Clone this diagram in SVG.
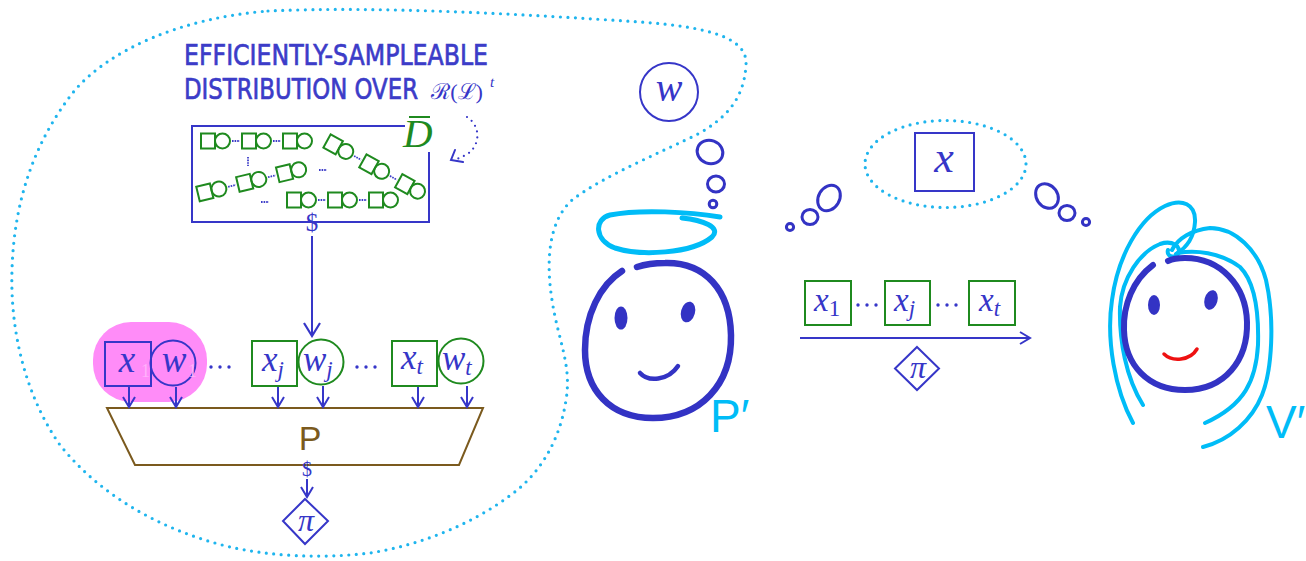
<svg xmlns="http://www.w3.org/2000/svg" width="1306" height="561" viewBox="0 0 1306 561">
  <style>
    .dots { fill: none; stroke: #1fb5ee; stroke-width: 3.2; stroke-linecap: round; stroke-dasharray: 0 7.5; }
    .blue { fill: none; stroke: #3636c8; stroke-width: 2; }
    .green { fill: none; stroke: #1f8a1f; stroke-width: 2; }
    .brown { fill: #fff; stroke: #7b5a1e; stroke-width: 2; }
    .hand { fill: none; stroke: #3333c4; stroke-linecap: round; stroke-linejoin: round; }
    .hair { fill: none; stroke: #00bcf7; stroke-width: 4; stroke-linecap: round; }
    .math { font-family: "Liberation Serif", "DejaVu Serif", serif; font-style: italic; fill: #3636c8; }
    .up { font-family: "Liberation Serif", "DejaVu Serif", serif; fill: #3636c8; }
    .title { font-family: "DejaVu Sans Condensed", "Liberation Sans", sans-serif; font-weight: normal; fill: #3c3cc8; stroke: #3c3cc8; stroke-width: 0.6; font-size: 26px; }
    .label { font-family: "Liberation Sans", "Open Sans", sans-serif; fill: #00bcf7; font-size: 46px; }
    .conn { fill: none; stroke: #3636c8; stroke-width: 2; }
    .dash { stroke: #3c3cc8; stroke-width: 1.8; stroke-dasharray: 1.6 1; }
  </style>
  <defs>
    <marker id="head" viewBox="-12 -8 14 16" refX="0" refY="0" markerWidth="14" markerHeight="16" markerUnits="userSpaceOnUse" orient="auto">
      <path d="M-10,-6 L0,0 L-10,6" fill="none" stroke="#3636c8" stroke-width="2"/>
    </marker>
    <marker id="headL" viewBox="-16 -10 18 20" refX="0" refY="0" markerWidth="18" markerHeight="20" markerUnits="userSpaceOnUse" orient="auto">
      <path d="M-13,-8 L0,0 L-13,8" fill="none" stroke="#3636c8" stroke-width="2.2"/>
    </marker>
    <!-- one square/circle pair of a sampled tuple -->
    <g id="unit" class="green">
      <rect x="0" y="-7.5" width="14" height="15"/>
      <circle cx="21.5" cy="0" r="7.5"/>
    </g>
    <!-- a chain of three pairs joined by dashes -->
    <g id="chain">
      <use href="#unit"/>
      <use href="#unit" x="41"/>
      <use href="#unit" x="82"/>
      <line class="dash" x1="31" y1="0" x2="39" y2="0"/>
      <line class="dash" x1="72" y1="0" x2="80" y2="0"/>
    </g>
  </defs>

  <!-- dotted region enclosing the prover's machinery -->
  <g id="region">
    <path class="dots" d="M268,11 C380,6 520,14 640,22 C710,27 748,38 746,65 C744,100 725,118 700,133 C660,153 605,175 572,200 C548,222 546,262 552,300 C558,340 572,365 566,400 C560,440 540,475 508,497 C470,525 420,545 370,553 C320,559 270,556 230,547 C160,530 100,495 60,445 C25,395 10,330 12,270 C14,200 35,140 75,90 C110,50 180,18 268,11 Z"/>
  </g>

  <!-- heading -->
  <g id="title">
    <text class="title" transform="translate(184,65) scale(1,1.12)" x="0" y="0" textLength="304" lengthAdjust="spacingAndGlyphs">EFFICIENTLY-SAMPLEABLE</text>
    <text class="title" transform="translate(184,99) scale(1,1.12)" x="0" y="0" textLength="234" lengthAdjust="spacingAndGlyphs">DISTRIBUTION OVER</text>
    <text class="up" x="431" y="99" font-size="22" textLength="52" lengthAdjust="spacingAndGlyphs">ℛ(ℒ)</text>
    <text class="math" x="490" y="87" font-size="15">t</text>
  </g>

  <!-- distribution D-bar -->
  <g id="dist-box">
    <path class="blue" d="M405,126 L192,126 L192,222 L429,222 L429,152"/>
    <text x="403" y="147" font-family="Liberation Serif, DejaVu Serif, serif" font-style="italic" font-size="41" fill="#1f8a1f">D</text>
    <line x1="409" y1="117" x2="430" y2="117" stroke="#1f8a1f" stroke-width="2"/>
    <use href="#chain" transform="translate(201,141)"/>
    <use href="#chain" transform="translate(198,194) rotate(-13.5)"/>
    <use href="#chain" transform="translate(327,141) rotate(29)"/>
    <use href="#chain" transform="translate(287,200)"/>
    <line class="dash" x1="248" y1="157" x2="248" y2="166"/>
    <line class="dash" x1="319" y1="170" x2="327" y2="170"/>
    <line class="dash" x1="261" y1="202" x2="269" y2="202"/>
    <text class="up" x="312" y="231" font-size="25" text-anchor="middle">$</text>
  </g>

  <!-- first pair (x, w), highlighted -->
  <g id="pair-1">
    <rect x="93" y="322" width="114" height="80" rx="38" ry="38" fill="#ff8cf8"/>
    <rect class="blue" x="105" y="342" width="46" height="44"/>
    <circle class="blue" cx="173" cy="363" r="22.5"/>
    <text x="141" y="377" font-family="Liberation Serif, serif" font-size="18" fill="#ffb2fb">1</text>
    <text x="188" y="377" font-family="Liberation Serif, serif" font-size="18" fill="#ffb2fb">1</text>
    <text class="math" x="127" y="372" font-size="37" text-anchor="middle">x</text>
    <text class="math" x="174" y="372" font-size="37" text-anchor="middle">w</text>
  </g>
  <g id="ellipsis-1" fill="#3636c8">
    <circle cx="211" cy="367" r="1.7"/><circle cx="220" cy="367" r="1.7"/><circle cx="229" cy="367" r="1.7"/>
  </g>

  <!-- pair j -->
  <g id="pair-j">
    <rect class="green" x="252" y="341" width="45" height="45"/>
    <circle class="green" cx="321" cy="362" r="22.5"/>
    <text class="math" x="262" y="371" font-size="35">x<tspan font-size="23" dy="6">j</tspan></text>
    <text class="math" x="303" y="371" font-size="35">w<tspan font-size="23" dy="6">j</tspan></text>
  </g>
  <g id="ellipsis-2" fill="#3636c8">
    <circle cx="357" cy="367" r="1.7"/><circle cx="366" cy="367" r="1.7"/><circle cx="375" cy="367" r="1.7"/>
  </g>

  <!-- pair t -->
  <g id="pair-t">
    <rect class="green" x="392" y="341" width="45" height="45"/>
    <circle class="green" cx="461" cy="361" r="22.5"/>
    <text class="math" x="401" y="369" font-size="35">x<tspan font-size="23" dy="5">t</tspan></text>
    <text class="math" x="442" y="370" font-size="35">w<tspan font-size="23" dy="5">t</tspan></text>
  </g>

  <!-- prover P -->
  <g id="prover-P">
    <polygon class="brown" points="107,408 483,408 459,465 135,465"/>
    <text x="310" y="450" font-family="Liberation Sans, Open Sans, sans-serif" font-size="34" fill="#7b5a1e" text-anchor="middle">P</text>
    <text class="up" x="307" y="476" font-size="20" text-anchor="middle">$</text>
  </g>

  <!-- resulting proof -->
  <g id="proof-left">
    <polygon class="blue" points="305,499 328,521 305,544 283,521"/>
    <text class="math" x="306" y="531" font-size="32" text-anchor="middle">π</text>
  </g>

  <!-- witness held by P' -->
  <g id="witness-w">
    <circle class="blue" cx="669" cy="92" r="29"/>
    <text class="math" x="669" y="101" font-size="40" text-anchor="middle">w</text>
  </g>
  <g id="thought-P" class="hand" stroke-width="3">
    <ellipse cx="710" cy="152" rx="13" ry="11.5" transform="rotate(20 710 152)"/>
    <ellipse cx="716" cy="184" rx="8.5" ry="8"/>
    <circle cx="713" cy="204" r="3.8"/>
  </g>

  <!-- honest prover P' -->
  <g id="prover-face">
    <path d="M720,217 C690,212 640,209 610,215 C594,219 594,240 615,248 C640,256 692,254 712,237 C722,227 702,220 682,218" fill="none" stroke="#00bcf7" stroke-width="5" stroke-linecap="round"/>
    <path class="hand" stroke-width="6.5" d="M622,271 C600,285 585,315 585,350 C585,390 610,418 653,418 C700,418 732,385 731,335 C730,290 705,262 665,263 C652,263 643,265 637,267"/>
    <ellipse cx="621" cy="318" rx="6.5" ry="11.5" fill="#3333c4"/>
    <ellipse cx="688" cy="312" rx="7" ry="10.5" transform="rotate(15 688 312)" fill="#3333c4"/>
    <path class="hand" stroke-width="4.5" d="M640,373 C648,382 668,381 678,366"/>
    <text class="label" x="710" y="432">P′</text>
  </g>

  <!-- shared statement x -->
  <g id="thought-left" class="hand" stroke-width="3">
    <ellipse cx="829" cy="198" rx="10.5" ry="13.5" transform="rotate(30 829 198)"/>
    <ellipse cx="810" cy="217" rx="8" ry="7.5"/>
    <circle cx="790" cy="227" r="3.6"/>
  </g>
  <g id="statement-x">
    <ellipse class="dots" cx="945.5" cy="164" rx="80.5" ry="43.5"/>
    <rect class="blue" x="915" y="133" width="59" height="58" stroke-width="2.5"/>
    <text class="math" x="944" y="172" font-size="44" text-anchor="middle">x</text>
  </g>
  <g id="thought-right" class="hand" stroke-width="3">
    <ellipse cx="1047" cy="196" rx="10.5" ry="13" transform="rotate(-35 1047 196)"/>
    <ellipse cx="1067" cy="213" rx="8" ry="7.5"/>
    <circle cx="1086" cy="222" r="3.6"/>
  </g>

  <!-- transcript sent to V' -->
  <g id="transcript">
    <rect class="green" x="805" y="281" width="46" height="44"/>
    <text class="math" x="814" y="311" font-size="33">x<tspan class="up" font-style="normal" font-size="23" dy="5">1</tspan></text>
    <g fill="#3636c8">
      <circle cx="858" cy="305" r="1.7"/><circle cx="867" cy="305" r="1.7"/><circle cx="876" cy="305" r="1.7"/>
    </g>
    <rect class="green" x="885" y="281" width="45" height="44"/>
    <text class="math" x="894" y="311" font-size="33">x<tspan font-size="23" dy="5">j</tspan></text>
    <g fill="#3636c8">
      <circle cx="938" cy="305" r="1.7"/><circle cx="947" cy="305" r="1.7"/><circle cx="956" cy="305" r="1.7"/>
    </g>
    <rect class="green" x="969" y="281" width="46" height="44"/>
    <text class="math" x="979" y="311" font-size="33">x<tspan font-size="23" dy="5">t</tspan></text>
  </g>
  <g id="proof-right">
    <polygon class="blue" points="917,347 939,368.5 917,390 895,368.5"/>
    <text class="math" x="918" y="378" font-size="32" text-anchor="middle">π</text>
  </g>

  <!-- verifier V' -->
  <g id="verifier-face">
    <path class="hair" d="M1133,423 C1115,390 1106,340 1112,300 C1118,255 1140,218 1165,206 C1182,198 1196,204 1195,222 C1194,238 1186,248 1176,254"/>
    <path class="hair" d="M1143,405 C1126,378 1119,340 1120,307 C1122,278 1140,252 1160,244 C1172,240 1182,246 1178,254 C1174,259 1166,256 1168,250"/>
    <path class="hair" d="M1172,250 C1178,238 1192,230 1210,228 C1235,228 1258,250 1266,280 C1275,320 1272,370 1262,395 C1252,420 1230,440 1203,447"/>
    <path class="hair" d="M1178,253 C1195,250 1220,252 1240,267 C1255,282 1259,310 1258,345 C1256,380 1245,405 1205,423"/>
    <path class="hand" stroke-width="6" d="M1153,265 C1133,280 1123,305 1124,330 C1125,365 1148,390 1185,390 C1225,390 1248,360 1247,322 C1246,285 1220,258 1185,258 C1178,258 1172,259 1168,261"/>
    <ellipse cx="1154" cy="305" rx="6" ry="10" fill="#3333c4"/>
    <ellipse cx="1211" cy="300" rx="6.5" ry="10" transform="rotate(15 1211 300)" fill="#3333c4"/>
    <path d="M1164,354 C1172,362 1190,361 1197,349" fill="none" stroke="#ee1111" stroke-width="3.5" stroke-linecap="round"/>
    <text class="label" x="1266" y="438">V′</text>
  </g>

  <!-- connectors -->
  <g id="connectors">
    <line class="conn" x1="312" y1="236" x2="312" y2="336" marker-end="url(#headL)"/>
    <line class="conn" x1="129" y1="387" x2="129" y2="407" marker-end="url(#head)"/>
    <line class="conn" x1="176" y1="387" x2="176" y2="407" marker-end="url(#head)"/>
    <line class="conn" x1="278" y1="387" x2="278" y2="407" marker-end="url(#head)"/>
    <line class="conn" x1="323" y1="386" x2="323" y2="407" marker-end="url(#head)"/>
    <line class="conn" x1="418" y1="387" x2="418" y2="407" marker-end="url(#head)"/>
    <line class="conn" x1="467" y1="386" x2="467" y2="407" marker-end="url(#head)"/>
    <line class="conn" x1="307" y1="479" x2="307" y2="497" marker-end="url(#head)"/>
    <line class="conn" x1="800" y1="338" x2="1030" y2="338" marker-end="url(#head)"/>
    <path d="M467,117 C481,126 481,146 466,155 L457,159" fill="none" stroke="#3636c8" stroke-width="2.2" stroke-linecap="round" stroke-dasharray="0 6"/>
    <polyline points="455,150 451,160 463,162" fill="none" stroke="#3636c8" stroke-width="2" stroke-linecap="round"/>
  </g>
</svg>
